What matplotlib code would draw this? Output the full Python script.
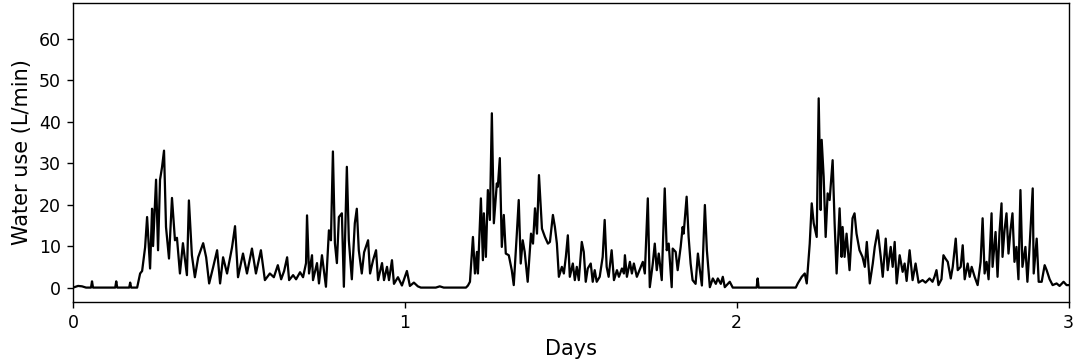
import numpy as np
import matplotlib
matplotlib.use("Agg")
from matplotlib import pyplot as plt

# ----------
# Data: water use readings (time in days, flow in L/min)

day1_t = [0.000, 0.015, 0.027, 0.039, 0.054, 0.057, 0.060, 0.127, 0.130, 0.133,
          0.169, 0.172, 0.175, 0.193, 0.202, 0.208, 0.217, 0.223, 0.232, 0.238,
          0.241, 0.250, 0.256, 0.262, 0.268, 0.274, 0.280, 0.289, 0.298, 0.307,
          0.313, 0.322, 0.331, 0.343, 0.349, 0.358, 0.367, 0.377, 0.392, 0.401,
          0.410, 0.422, 0.434, 0.443, 0.452, 0.464, 0.479, 0.488, 0.497, 0.512,
          0.524, 0.539, 0.551, 0.566, 0.578, 0.593, 0.605, 0.617, 0.627, 0.636,
          0.645, 0.651, 0.663, 0.672, 0.684, 0.693, 0.702, 0.705, 0.711, 0.720,
          0.723, 0.735, 0.741, 0.750, 0.753, 0.762, 0.771, 0.777, 0.783, 0.789,
          0.795, 0.801, 0.810, 0.816, 0.825, 0.831, 0.840, 0.849, 0.855, 0.861,
          0.870, 0.877, 0.889, 0.895, 0.904, 0.913, 0.919, 0.931, 0.937, 0.946,
          0.952, 0.961, 0.967, 0.979, 0.991, 1.006, 1.015, 1.027, 1.039, 1.048,
          1.093, 1.105, 1.117, 1.184]
day1_v = [0, 0.4, 0.3, 0, 0, 1.5, 0, 0, 1.5, 0,
          0, 1.2, 0, 0, 3.4, 4, 9.7, 17, 4.6, 19,
          10, 26, 9, 26, 29, 33, 14.6, 7, 21.6, 11.4,
          12, 3.4, 10.7, 3, 21, 7.8, 2.5, 7.3, 10.7, 7.3,
          1, 4.9, 9, 1, 7.3, 3.4, 9.7, 14.8, 2.5, 8.2,
          3.4, 9.4, 3.4, 9, 1.8, 3.4, 2.5, 5.4, 2, 4,
          7.3, 1.8, 3, 2, 3.7, 2.5, 5.9, 17.4, 3.4, 7.8,
          1.8, 5.9, 1, 7.8, 5.9, 0.2, 13.8, 11.4, 32.8, 10.7,
          5.9, 17, 17.9, 0.2, 29.1, 11.4, 2, 15.5, 19, 9,
          3.4, 8.5, 11.4, 3.4, 6.6, 9, 1.8, 5.9, 1.8, 5,
          1.8, 6.6, 0.9, 2.5, 0.5, 4, 0.4, 1.2, 0.3, 0,
          0, 0.3, 0, 0]

day2_t = [1.190, 1.196, 1.205, 1.211, 1.217, 1.220, 1.229, 1.235, 1.238, 1.244,
          1.250, 1.256, 1.262, 1.268, 1.277, 1.280, 1.286, 1.292, 1.298, 1.304,
          1.313, 1.322, 1.328, 1.337, 1.343, 1.349, 1.355, 1.361, 1.370, 1.380,
          1.386, 1.392, 1.398, 1.404, 1.413, 1.422, 1.431, 1.437, 1.446, 1.452,
          1.458, 1.464, 1.473, 1.479, 1.485, 1.491, 1.497, 1.506, 1.512, 1.518,
          1.524, 1.533, 1.539, 1.545, 1.551, 1.560, 1.566, 1.572, 1.578, 1.587,
          1.596, 1.602, 1.608, 1.614, 1.623, 1.630, 1.639, 1.645, 1.654, 1.660,
          1.663, 1.669, 1.678, 1.684, 1.690, 1.699, 1.711, 1.717, 1.723, 1.732,
          1.738, 1.747, 1.753, 1.759, 1.765, 1.774, 1.777, 1.783, 1.789, 1.795,
          1.804, 1.807, 1.816, 1.822, 1.831, 1.837, 1.840, 1.849, 1.855, 1.861,
          1.867, 1.876, 1.883, 1.889, 1.895, 1.904, 1.910, 1.919, 1.928, 1.937,
          1.943, 1.952, 1.958, 1.964, 1.979, 1.988, 2.060, 2.063, 2.066, 2.178]
day2_v = [0.5, 1.4, 12.2, 3.4, 8.6, 3.4, 21.5, 6.6, 17.9, 7.4,
          23.5, 16.3, 42, 15.5, 25.1, 24.3, 31.2, 9.8, 17.5, 8.2,
          7.8, 4.2, 0.6, 12.6, 21.1, 5.8, 11.4, 8.6, 1.4, 13,
          10.6, 19.1, 13, 27.1, 14.2, 12.2, 10.6, 11, 17.5, 14.6,
          10.6, 2.6, 5, 3.4, 7.4, 12.6, 2.6, 5.8, 1.8, 5,
          1.8, 11, 8.6, 1.4, 4.6, 5.8, 1.4, 4.2, 1.4, 2.6,
          7.4, 16.3, 5, 2.6, 9, 1.8, 4.2, 2.6, 4.6, 3.4,
          7.8, 2.6, 6.2, 3.4, 5.8, 2.6, 5, 6.2, 3.4, 21.5,
          0.1, 5.8, 10.6, 4.2, 8.2, 1.8, 9, 23.9, 9, 10.6,
          0.1, 9.4, 8.6, 4.2, 9.8, 14.6, 13, 21.9, 12.2, 5.8,
          1.8, 0.9, 8.2, 4.2, 0.5, 19.9, 9, 0.1, 2.2, 0.9,
          2.2, 0.9, 2.6, 0.1, 1.4, 0, 0, 2.2, 0, 0]

day3_t = [2.184, 2.196, 2.205, 2.211, 2.220, 2.226, 2.232, 2.241, 2.247, 2.253,
          2.256, 2.262, 2.268, 2.274, 2.280, 2.289, 2.295, 2.301, 2.310, 2.316,
          2.319, 2.325, 2.331, 2.340, 2.349, 2.355, 2.361, 2.370, 2.379, 2.386,
          2.392, 2.401, 2.410, 2.416, 2.425, 2.434, 2.440, 2.449, 2.455, 2.464,
          2.470, 2.476, 2.482, 2.491, 2.500, 2.506, 2.512, 2.521, 2.530, 2.539,
          2.548, 2.560, 2.569, 2.581, 2.590, 2.596, 2.602, 2.608, 2.617, 2.623,
          2.629, 2.636, 2.645, 2.651, 2.660, 2.666, 2.675, 2.681, 2.687, 2.696,
          2.702, 2.708, 2.717, 2.726, 2.735, 2.741, 2.747, 2.753, 2.759, 2.768,
          2.771, 2.780, 2.786, 2.792, 2.798, 2.801, 2.807, 2.813, 2.819, 2.825,
          2.831, 2.837, 2.843, 2.849, 2.855, 2.861, 2.870, 2.876, 2.882, 2.892,
          2.895, 2.904, 2.910, 2.919, 2.928, 2.934, 2.943, 2.952, 2.964, 2.973,
          2.985, 2.994, 3.000]
day3_v = [1, 2.6, 3.4, 1, 10.6, 20.3, 15.5, 12.2, 45.6, 18.7,
          35.6, 26.7, 12.2, 22.7, 21.1, 30.7, 15.5, 3.4, 19.1, 7.4,
          14.6, 7.4, 13, 4.2, 16.7, 17.9, 13, 9, 7.4, 5,
          11, 1, 5.8, 9.8, 13.8, 7.4, 2.6, 11.8, 4.2, 9.8,
          5, 11, 1, 7.8, 3.8, 5.8, 1.6, 9, 1.8, 5.8,
          1.2, 1.8, 1.2, 2.2, 1.4, 2.6, 4.2, 0.6, 2, 7.8,
          7, 6.2, 2.2, 5, 11.8, 4.2, 5, 10.2, 2, 5.8,
          2.6, 5, 2.6, 0.6, 6.2, 16.7, 3.4, 6.2, 2, 17.9,
          5, 13.4, 2.6, 13.4, 20.3, 7.4, 13.8, 17.9, 8.2, 13.8,
          17.9, 6.2, 9.8, 2, 23.5, 5, 9.8, 1.4, 9, 23.9,
          3.4, 11.8, 1.4, 1.4, 5.4, 4.2, 2, 0.6, 1, 0.4,
          1.4, 0.6, 0.6]

t = np.array(day1_t + day2_t + day3_t)
flow = np.array(day1_v + day2_v + day3_v)

# ----------
# Plot

fig = plt.figure(figsize=(8.6, 2.896), dpi=125)
ax = fig.add_axes([0.068, 0.166, 0.926, 0.826])

ax.plot(t, flow, color='black', linewidth=1.3)

ax.set_xlim(0, 3)
ax.set_ylim(-3.45, 68.6)
ax.set_xticks([0, 1, 2, 3])
ax.set_yticks([0, 10, 20, 30, 40, 50, 60])
ax.tick_params(labelsize=10)
ax.set_xlabel('Days', fontsize=12)
ax.set_ylabel('Water use (L/min)', fontsize=12)

fig.savefig('out.png', dpi=125)
